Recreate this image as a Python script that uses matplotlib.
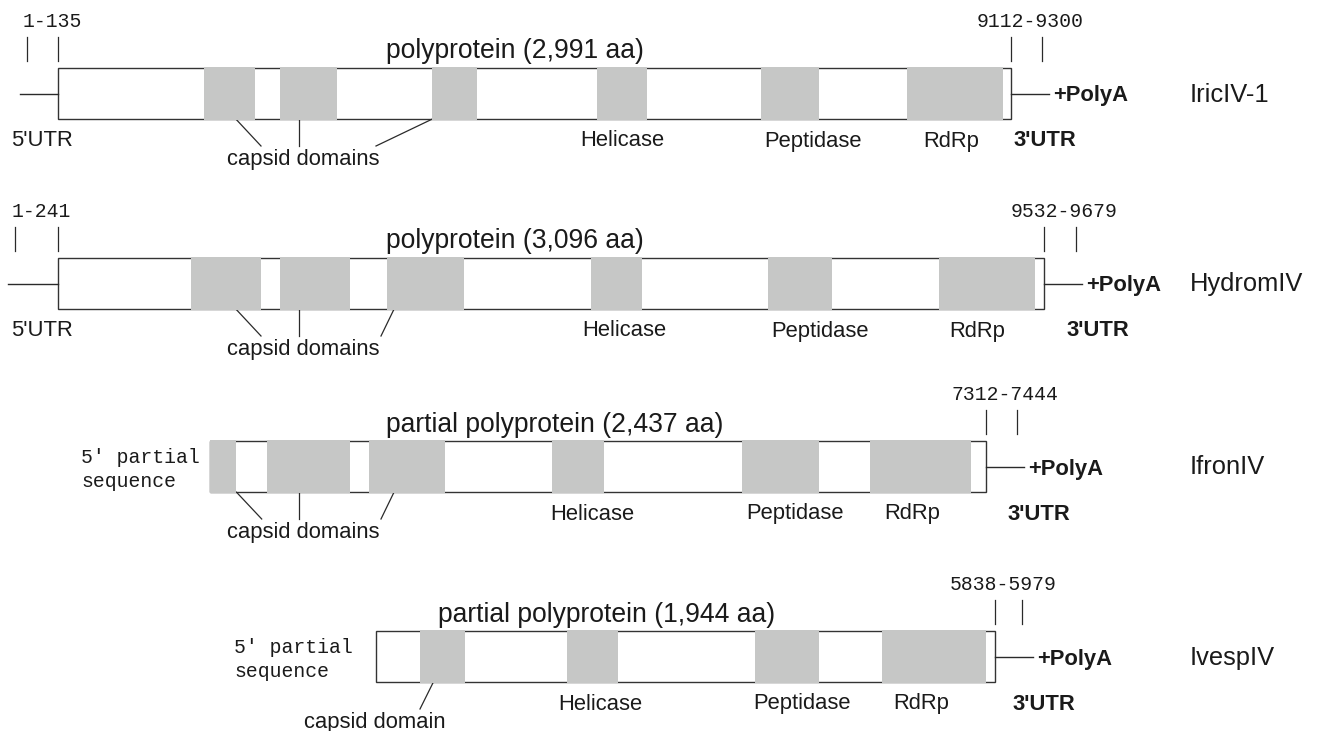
"""Genome maps of four iflavirus-like polyproteins with their domains."""

import matplotlib

matplotlib.use("Agg")
import matplotlib.pyplot as plt
from matplotlib.patches import Rectangle
from matplotlib.transforms import Affine2D

# ---- data -----------------------------------------------------------------
virus_names = ["IricIV-1", "HydromIV", "IfronIV", "IvespIV"]
protein_titles = [
    "polyprotein (2,991 aa)",
    "polyprotein (3,096 aa)",
    "partial polyprotein (2,437 aa)",
    "partial polyprotein (1,944 aa)",
]
protein_aa = [2991, 3096, 2437, 1944]
utr5_ranges = ["1-135", "1-241", None, None]
utr3_ranges = ["9112-9300", "9532-9679", "7312-7444", "5838-5979"]

# domain spans along each polyprotein (amino-acid positions)
capsid_aa = [
    [(458, 619), (697, 876), (1174, 1316)],
    [(419, 637), (697, 917), (1033, 1275)],
    [(0, 82), (181, 441), (500, 739)],
    [(138, 280)],
]
helicase_aa = [(1692, 1849), (1672, 1834), (1076, 1239), (599, 761)]
peptidase_aa = [(2207, 2389), (2229, 2430), (1673, 1914), (1190, 1392)]
rdrp_aa = [(2666, 2967), (2766, 3067), (2073, 2392), (1590, 1914)]

# ---- layout (pixels) ------------------------------------------------------
SCALE = 0.3185            # px per amino acid
row_x = [58, 58, 209.6, 375.9]
row_dy = [0, 190, 373, 563]
BOX_TOP, BOX_H = 68, 51.2
MID = BOX_TOP + BOX_H / 2

leader_len = [38, 50.4, None, None]
leader_tick = [31.5, 43.3, None, None]
utr5_text_x = [52.6, 41, None, None]
partial_text_x = [None, None, 81, 234]
tick2_off = [31.6, 31.5, 31.6, 26.8]
utr3_num_off = [19.4, 19.5, 19.3, 7.8]
utr3_label_off = [34.4, 53.5, 53.2, 48.5]
title_x = [515, 515, 555, 607]
helicase_lbl = [622, 624, 592, 600]
peptidase_lbl = [813.5, 820, 795, 801.7]
rdrp_lbl = [951, 977, 912.5, 921]
capsid_lbl = [303, 303, 303, 374.6]
callouts = [
    [(236, 261), (299, 299), (432, 376)],
    [(236, 261), (299, 299), (394, 381)],
    [(236.5, 261.7), (299, 299), (394, 381)],
    [(433.3, 420)],
]

FILL = "#c6c7c6"
INK = "#1a1a1a"
LINE = "#2a2a2a"
SANS = "Liberation Sans"
MONO = "Liberation Mono"
LBL = 15.8

fig = plt.figure(figsize=(13.2, 7.31), dpi=100)
ax = fig.add_axes([0, 0, 1, 1])
ax.set_xlim(0, 1320)
ax.set_ylim(731, 0)
ax.axis("off")

for i, name in enumerate(virus_names):
    # row-local pixel transform and amino-acid transform for the genome itself
    px = Affine2D().translate(0, row_dy[i]) + ax.transData
    aa = Affine2D().scale(SCALE, 1).translate(row_x[i], row_dy[i]) + ax.transData
    end = row_x[i] + protein_aa[i] * SCALE

    ax.add_patch(Rectangle((0, BOX_TOP), protein_aa[i], BOX_H, transform=aa,
                           facecolor="white", edgecolor="#333333", lw=1.0,
                           zorder=2))
    spans = capsid_aa[i] + [helicase_aa[i], peptidase_aa[i], rdrp_aa[i]]
    for a0, a1 in spans:
        ax.add_patch(Rectangle((a0, BOX_TOP - 0.6), a1 - a0, BOX_H + 1.2,
                               transform=aa, facecolor=FILL, edgecolor="none",
                               zorder=3))

    # 5' end
    if leader_len[i] is not None:
        x0 = row_x[i]
        ax.plot([x0 - leader_len[i], x0], [MID, MID], color=LINE, lw=1.0,
                transform=px)
        for tx in (x0 - leader_tick[i], x0):
            ax.plot([tx, tx], [36.6, 61.2], color=LINE, lw=0.9, transform=px)
        ax.text(utr5_text_x[i], 27.4, utr5_ranges[i], transform=px,
                family=MONO, fontsize=14.2, ha="center", va="baseline",
                color=INK)
        ax.text(42, 146.5, "5'UTR", transform=px, family=SANS, fontsize=LBL,
                ha="center", va="baseline", color=INK)
    else:
        ax.text(partial_text_x[i], 90.4, "5' partial", transform=px,
                family=MONO, fontsize=14.2, ha="left", va="baseline",
                color=INK)
        ax.text(partial_text_x[i], 114.3, "sequence", transform=px,
                family=MONO, fontsize=14.2, ha="left", va="baseline",
                color=INK)

    # 3' end
    ax.plot([end, end + 38], [MID, MID], color=LINE, lw=1.0, transform=px)
    for tx in (end, end + tick2_off[i]):
        ax.plot([tx, tx], [36.6, 61.2], color=LINE, lw=0.9, transform=px)
    ax.text(end + utr3_num_off[i], 27.4, utr3_ranges[i], transform=px,
            family=MONO, fontsize=14.2, ha="center", va="baseline",
            color=INK)
    ax.text(end + 42, 101.5, "+PolyA", transform=px, family=SANS,
            fontsize=LBL, fontweight="bold", ha="left", va="baseline",
            color=INK)
    ax.text(end + utr3_label_off[i], 146.5, "3'UTR", transform=px,
            family=SANS, fontsize=LBL, fontweight="bold", ha="center",
            va="baseline", color=INK)

    # names and titles
    ax.text(1190, 101.5, name, transform=px, family=SANS, fontsize=18.4,
            ha="left", va="baseline", color=INK)
    ax.text(title_x[i], 58.5, protein_titles[i], transform=px, family=SANS,
            fontsize=19.1, ha="center", va="baseline", color=INK)

    # domain labels
    for lx, text in ((helicase_lbl[i], "Helicase"),
                     (peptidase_lbl[i], "Peptidase"),
                     (rdrp_lbl[i], "RdRp")):
        ax.text(lx, 146.5, text, transform=px, family=SANS, fontsize=LBL,
                ha="center", va="baseline", color=INK)
    capsid_text = "capsid domains" if len(capsid_aa[i]) > 1 else "capsid domain"
    ax.text(capsid_lbl[i], 165, capsid_text, transform=px, family=SANS,
            fontsize=LBL, ha="center", va="baseline", color=INK)
    for xa, xb in callouts[i]:
        ax.plot([xa, xb], [BOX_TOP + BOX_H, 146], color=LINE, lw=0.9,
                transform=px)

fig.savefig("out.png", dpi=100)
